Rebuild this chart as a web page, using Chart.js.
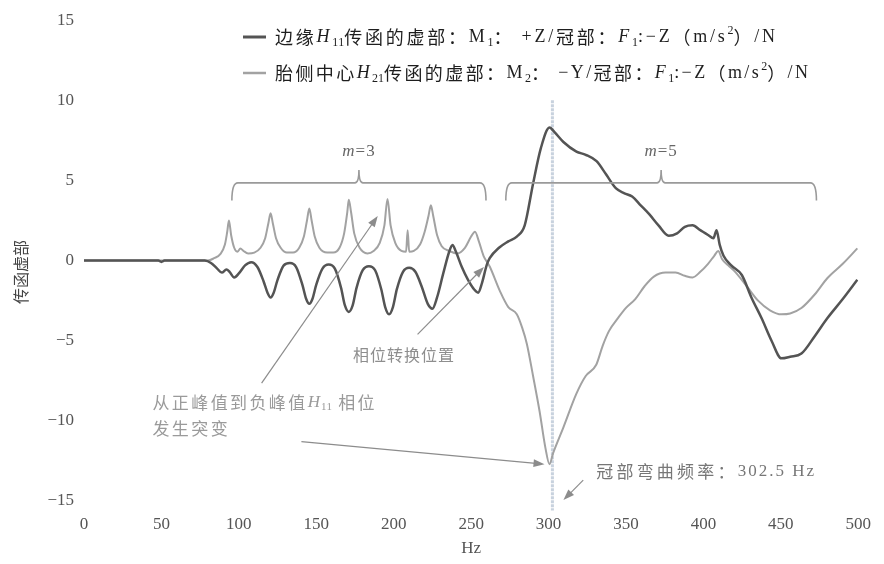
<!DOCTYPE html>
<html>
<head>
<meta charset="utf-8">
<script src="https://cdn.jsdelivr.net/npm/chart.js@4.4.1/dist/chart.umd.min.js"></script>
<style>
  html, body { margin: 0; padding: 0; background: #ffffff; }
  #wrap { width: 884px; height: 564px; position: relative; }
</style>
</head>
<body>
<div id="wrap"><canvas id="chart" width="884" height="564"></canvas></div>
<script>
// Imaginary part of the transfer functions (frequency in Hz)
const freqH11 = [0, 30, 48, 50, 52, 78, 82, 86, 89, 92, 94, 97, 100, 104, 108, 112, 116, 118.5, 120.5, 122.5, 125, 129, 133, 137, 141, 143.5, 145.5, 147.5, 150, 154, 158, 162, 166, 168.5, 171, 173.5, 176, 180, 184, 188, 192, 194.5, 197, 199.5, 202, 206, 210, 214, 218, 222, 225, 228, 232, 236, 238, 240, 244, 248, 252, 254.5, 257, 260, 262, 268, 274, 279.5, 284.6, 290, 295, 300.6, 304, 309.6, 318, 324, 331, 337, 343.6, 349, 354, 359, 365, 371, 377.6, 383, 388, 393, 398, 403, 406.5, 408.5, 410.5, 413, 418, 424.8, 431, 437.6, 444, 450.4, 456, 463.3, 472, 480, 490, 499.4];
const imagH11 = [0, 0, 0, -0.08, 0, 0, -0.15, -0.5, -0.75, -0.55, -0.7, -1.05, -0.8, -0.3, -0.1, -0.4, -1.3, -2.0, -2.3, -2.0, -1.2, -0.3, -0.15, -0.4, -1.5, -2.4, -2.7, -2.4, -1.5, -0.5, -0.25, -0.5, -1.7, -2.8, -3.2, -2.8, -1.7, -0.6, -0.35, -0.6, -1.8, -2.9, -3.35, -2.9, -1.8, -0.7, -0.45, -0.7, -1.6, -2.7, -3.0, -2.3, -0.8, 0.6, 0.97, 0.6, -0.4, -1.2, -1.8, -2.0, -1.4, -0.3, 0.15, 0.8, 1.2, 1.5, 2.2, 4.8, 7.0, 8.3, 8.0, 7.4, 6.8, 6.6, 6.2, 5.4, 4.5, 4.2, 4.0, 3.5, 2.9, 2.2, 1.55, 1.7, 2.1, 2.2, 1.9, 1.6, 1.4, 1.9, 1.0, 0.3, -0.3, -0.9, -2.3, -3.6, -5.0, -6.1, -6.0, -5.8, -4.7, -3.6, -2.4, -1.2];

const freqH21 = [0, 50, 80, 84, 88, 91, 92.5, 93.6, 95, 97, 99, 101, 103, 106, 110, 114, 117, 119, 120.5, 122, 124, 127, 131, 135, 139, 142, 144, 145.5, 147, 149, 152, 157, 161, 165, 168, 170, 171, 172.5, 174.5, 178, 183, 187, 191, 194, 196, 198, 201, 205, 208, 209, 210, 213, 217, 220, 222.5, 224, 225.5, 228, 231, 236, 241, 246, 250, 252.5, 255, 258, 262, 268.6, 274, 279.5, 283, 286, 290, 294.2, 298, 300.6, 303, 309.6, 318, 324, 330.8, 335, 339, 345.5, 350, 356, 362, 368, 375.6, 382, 388, 393, 398, 403, 407, 409.6, 412, 416, 420.5, 428, 435.3, 443, 450.4, 456, 463.3, 472, 480, 490, 499.4];
const imagH21 = [0, 0, 0, 0.15, 0.4, 1.0, 1.8, 2.5, 1.6, 0.8, 0.55, 0.75, 0.6, 0.45, 0.5, 0.8, 1.4, 2.3, 2.95, 2.3, 1.4, 0.8, 0.5, 0.5, 0.8, 1.5, 2.5, 3.25, 2.5, 1.5, 0.8, 0.5, 0.5, 0.8, 1.7, 3.0, 3.8, 3.0, 1.7, 0.8, 0.45, 0.6, 1.1, 2.2, 3.85, 2.2, 1.1, 0.6, 0.55, 1.9, 0.55, 0.6, 1.0, 1.8, 2.8, 3.45, 2.8, 1.6, 0.9, 0.6, 0.45, 0.8, 1.5, 1.8, 1.2, 0.3, -0.37, -1.9, -2.9, -3.35, -4.2, -5.2, -7.2, -9.4, -11.7, -12.7, -12.0, -10.4, -8.3, -7.2, -6.5, -5.3, -4.4, -3.5, -2.95, -2.4, -1.6, -1.0, -0.75, -0.75, -0.95, -1.05, -0.7, -0.2, 0.3, 0.6, 0.1, -0.3, -0.7, -1.6, -2.5, -3.1, -3.35, -3.3, -2.96, -2.1, -1.1, -0.2, 0.76];

const xTickValues = [0, 50, 100, 150, 200, 250, 300, 350, 400, 450, 500];
const yTickValues = [-15, -10, -5, 0, 5, 10, 15];

// Crown bending frequency (Hz)
const bendFreq = 302.5;

const CJK = '"Noto Sans CJK SC", "Noto Sans", sans-serif';
const SERIF = '"Liberation Serif", "DejaVu Serif", serif';

const toPoints = (xs, ys) => xs.map((x, i) => ({ x: x, y: ys[i] }));

function segFont(s, size) {
  const small = s.sub || s.sup;
  const fs = small ? Math.round(size * 0.65) : size;
  return (s.i ? 'italic ' : '') + fs + 'px ' + (s.c ? CJK : SERIF);
}

// Draws a run of mixed text segments (CJK / serif / italic / sub / sup),
// character by character so that a tracking value can be applied.
function drawRich(ctx, x, y, segs, size, color, spacing) {
  const sp0 = spacing || 0;
  ctx.save();
  ctx.fillStyle = color;
  ctx.textBaseline = 'middle';
  ctx.textAlign = 'left';
  for (const s of segs) {
    const small = s.sub || s.sup;
    ctx.font = segFont(s, size);
    const dy = s.sub ? size * 0.3 : (s.sup ? -size * 0.32 : 0);
    const sp = s.sp !== undefined ? s.sp : (small ? 0 : sp0);
    for (const ch of s.t) {
      ctx.fillText(ch, x, y + dy);
      x += ctx.measureText(ch).width + sp;
    }
  }
  ctx.restore();
  return x;
}

// Tracking needed for a segment run to span a given width (CJK glyphs only)
function fitSpacing(ctx, segs, size, width) {
  let natural = 0, n = 0;
  ctx.save();
  for (const s of segs) {
    ctx.font = segFont(s, size);
    for (const ch of s.t) {
      natural += ctx.measureText(ch).width;
      if (!(s.sub || s.sup)) n++;
    }
  }
  ctx.restore();
  return Math.max(0, (width - natural) / Math.max(1, n - 1));
}

function arrow(ctx, x1, y1, x2, y2, color) {
  const ang = Math.atan2(y2 - y1, x2 - x1);
  const len = 11, hw = 4;
  ctx.save();
  ctx.strokeStyle = color;
  ctx.fillStyle = color;
  ctx.lineWidth = 1.2;
  ctx.beginPath();
  ctx.moveTo(x1, y1);
  ctx.lineTo(x2 - Math.cos(ang) * len * 0.8, y2 - Math.sin(ang) * len * 0.8);
  ctx.stroke();
  ctx.beginPath();
  ctx.moveTo(x2, y2);
  ctx.lineTo(x2 - Math.cos(ang) * len + Math.sin(ang) * hw, y2 - Math.sin(ang) * len - Math.cos(ang) * hw);
  ctx.lineTo(x2 - Math.cos(ang) * len - Math.sin(ang) * hw, y2 - Math.sin(ang) * len + Math.cos(ang) * hw);
  ctx.closePath();
  ctx.fill();
  ctx.restore();
}

function bracket(ctx, xs, ys, x0, x1, level, drop, rise, label) {
  const px0 = xs.getPixelForValue(x0), px1 = xs.getPixelForValue(x1);
  const py = ys.getPixelForValue(level);
  const pyEnd = ys.getPixelForValue(level - drop);
  const pc = (px0 + px1) / 2;
  const pyTop = ys.getPixelForValue(level + rise);
  ctx.save();
  ctx.strokeStyle = '#9a9a9a';
  ctx.lineWidth = 1.6;
  ctx.beginPath();
  ctx.moveTo(px0, pyEnd);
  ctx.quadraticCurveTo(px0, py, px0 + 6, py);
  ctx.lineTo(pc - 4, py);
  ctx.quadraticCurveTo(pc, py, pc, pyTop);
  ctx.quadraticCurveTo(pc, py, pc + 4, py);
  ctx.lineTo(px1 - 6, py);
  ctx.quadraticCurveTo(px1, py, px1, pyEnd);
  ctx.stroke();
  ctx.restore();
  const ty = ys.getPixelForValue(level + 1.95);
  ctx.save();
  ctx.font = '17px ' + SERIF;
  const w = ctx.measureText('m=' + label).width + 2;
  ctx.restore();
  drawRich(ctx, pc - w / 2, ty, [{ t: 'm', i: 1 }, { t: '=' + label }], 17, '#666', 1);
}

const decorations = {
  id: 'decorations',
  beforeDatasetsDraw(chart) {
    const { ctx } = chart;
    const xs = chart.scales.x, ys = chart.scales.y;
    const px = xs.getPixelForValue(bendFreq);
    ctx.save();
    ctx.strokeStyle = 'rgba(190, 202, 216, 0.85)';
    ctx.lineWidth = 3;
    ctx.setLineDash([3, 1]);
    ctx.beginPath();
    ctx.moveTo(px, ys.getPixelForValue(10));
    ctx.lineTo(px, ys.getPixelForValue(-15.6));
    ctx.stroke();
    ctx.restore();
  },
  afterDatasetsDraw(chart) {
    const { ctx } = chart;
    const xs = chart.scales.x, ys = chart.scales.y;
    const X = v => xs.getPixelForValue(v), Y = v => ys.getPixelForValue(v);

    // mode brackets
    bracket(ctx, xs, ys, 95.5, 259.6, 4.85, 1.1, 0.8, '3');
    bracket(ctx, xs, ys, 272.4, 473, 4.85, 1.1, 0.8, '5');

    // annotation arrows
    arrow(ctx, X(114.7), Y(-7.64), X(189.7), Y(2.78), '#8c8c8c');
    arrow(ctx, X(215.4), Y(-4.6), X(258.3), Y(-0.4), '#8c8c8c');
    arrow(ctx, X(140.4), Y(-11.3), X(297.4), Y(-12.7), '#8c8c8c');
    arrow(ctx, X(322.4), Y(-13.7), X(309.6), Y(-14.94), '#8c8c8c');

    // annotation texts
    drawRich(ctx, X(173.7), Y(-5.9), [{ t: '相位转换位置', c: 1 }], 16, '#8e8e8e', 1);
    drawRich(ctx, X(44.2), Y(-8.85), [{ t: '从正峰值到负峰值', c: 1 }, { t: 'H', i: 1, sp: 1 }, { t: '11', sub: 1 }, { t: ' 相位', c: 1 }], 17, '#9a9a9a', 2.4);
    drawRich(ctx, X(44.2), Y(-10.45), [{ t: '发生突变', c: 1 }], 17, '#9a9a9a', 2.4);
    drawRich(ctx, X(330.8), Y(-13.15), [{ t: '冠部弯曲频率：', c: 1 }, { t: bendFreq.toFixed(1) + ' Hz', sp: 2 }], 17, '#777', 3.2);

    // legend
    const ds = chart.data.datasets;
    const lx = 243, ly = [37, 73], lw = [500, 533];
    const legendSegs = [
      [{ t: '边缘', c: 1 }, { t: 'H', i: 1 }, { t: '11', sub: 1 }, { t: '传函的虚部：', c: 1 }, { t: 'M' }, { t: '1', sub: 1 }, { t: '：', c: 1 }, { t: ' +Z/' }, { t: '冠部：', c: 1 }, { t: 'F', i: 1 }, { t: '1', sub: 1 }, { t: ':−Z' }, { t: '（', c: 1 }, { t: 'm/s' }, { t: '2', sup: 1 }, { t: '）', c: 1 }, { t: '/N' }],
      [{ t: '胎侧中心', c: 1 }, { t: 'H', i: 1 }, { t: '21', sub: 1 }, { t: '传函的虚部：', c: 1 }, { t: 'M' }, { t: '2', sub: 1 }, { t: '：', c: 1 }, { t: ' −Y/' }, { t: '冠部：', c: 1 }, { t: 'F', i: 1 }, { t: '1', sub: 1 }, { t: ':−Z' }, { t: '（', c: 1 }, { t: 'm/s' }, { t: '2', sup: 1 }, { t: '）', c: 1 }, { t: '/N' }]
    ];
    ds.forEach((d, i) => {
      ctx.save();
      ctx.strokeStyle = d.borderColor;
      ctx.lineWidth = d.borderWidth + 0.5;
      ctx.beginPath();
      ctx.moveTo(lx, ly[i]);
      ctx.lineTo(lx + 23, ly[i]);
      ctx.stroke();
      ctx.restore();
      const sp = fitSpacing(ctx, legendSegs[i], 18, lw[i]);
      drawRich(ctx, lx + 32, ly[i], legendSegs[i], 18, '#1e1e1e', sp);
    });

    // y axis title
    ctx.save();
    ctx.translate(21, 272);
    ctx.rotate(-Math.PI / 2);
    ctx.font = '16px ' + CJK;
    ctx.fillStyle = '#444';
    ctx.textAlign = 'center';
    ctx.textBaseline = 'middle';
    ctx.fillText('传函虚部', 0, 0);
    ctx.restore();
  }
};

new Chart(document.getElementById('chart'), {
  type: 'line',
  data: {
    datasets: [
      {
        label: '边缘H11传函的虚部',
        data: toPoints(freqH11, imagH11),
        borderColor: '#545454',
        borderWidth: 2.5,
        pointRadius: 0,
        cubicInterpolationMode: 'monotone',
        fill: false
      },
      {
        label: '胎侧中心H21传函的虚部',
        data: toPoints(freqH21, imagH21),
        borderColor: '#a2a2a2',
        borderWidth: 2,
        pointRadius: 0,
        cubicInterpolationMode: 'monotone',
        fill: false
      }
    ]
  },
  options: {
    responsive: false,
    animation: false,
    devicePixelRatio: 1,
    layout: { padding: { left: 0, right: 20, top: 20, bottom: 0 } },
    plugins: { legend: { display: false }, tooltip: { enabled: false } },
    scales: {
      x: {
        type: 'linear',
        min: 0, max: 500,
        afterBuildTicks: s => { s.ticks = xTickValues.map(v => ({ value: v })); },
        afterFit: s => { s.height = 63; },
        grid: { display: false, drawTicks: false },
        border: { display: false },
        ticks: { padding: 13, color: '#555', font: { family: SERIF, size: 17 }, maxRotation: 0 },
        title: { display: true, text: 'Hz', color: '#555', font: { family: SERIF, size: 17 }, padding: { top: 0, bottom: 5 } }
      },
      y: {
        type: 'linear',
        min: -15, max: 15,
        afterBuildTicks: s => { s.ticks = yTickValues.map(v => ({ value: v })); },
        afterFit: s => { s.width = 84; },
        grid: { display: false, drawTicks: false },
        border: { display: false },
        ticks: {
          padding: 10, color: '#555', font: { family: SERIF, size: 17 },
          callback: v => (v < 0 ? '−' + Math.abs(v) : String(v))
        }
      }
    }
  },
  plugins: [decorations]
});
</script>
</body>
</html>
